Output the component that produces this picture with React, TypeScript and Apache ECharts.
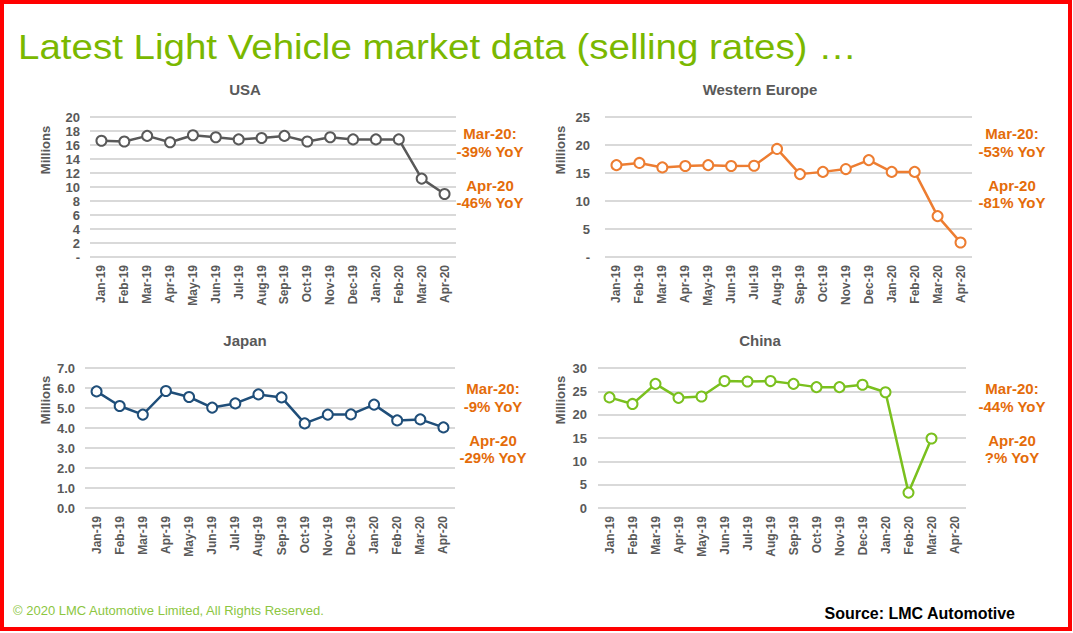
import React, { useEffect, useRef } from "react";
import * as echarts from "echarts";

const months = ["Jan-19","Feb-19","Mar-19","Apr-19","May-19","Jun-19","Jul-19","Aug-19","Sep-19","Oct-19","Nov-19","Dec-19","Jan-20","Feb-20","Mar-20","Apr-20"];
const usa = [16.6,16.5,17.3,16.4,17.4,17.1,16.8,17.0,17.3,16.5,17.1,16.8,16.8,16.8,11.2,9.0];
const westernEurope = [16.4,16.8,16.0,16.25,16.4,16.25,16.3,19.3,14.8,15.2,15.7,17.3,15.2,15.2,7.3,2.6];
const japan = [5.83,5.1,4.67,5.85,5.55,5.02,5.23,5.68,5.53,4.23,4.67,4.68,5.17,4.38,4.43,4.03];
const china: (number | null)[] = [23.7,22.3,26.6,23.6,23.9,27.2,27.1,27.2,26.6,25.9,25.9,26.4,24.8,3.3,14.9,null];

const panelTitles = ["USA", "Western Europe", "Japan", "China"];
const annotations = [
  ["Mar-20:", "-39% YoY", "Apr-20", "-46% YoY"],
  ["Mar-20:", "-53% YoY", "Apr-20", "-81% YoY"],
  ["Mar-20:", "-9% YoY", "Apr-20", "-29% YoY"],
  ["Mar-20:", "-44% YoY", "Apr-20", "?% YoY"],
];

const FONT = "'Liberation Sans', Arial, sans-serif";
const GRAY = "#595959";
const ORANGE = "#E46C0A";

export default function App() {
  const ref = useRef<HTMLDivElement>(null);
  useEffect(() => {
    if (!ref.current) return;
    const chart = echarts.init(ref.current, null, { renderer: "svg" });

    const grids = [
      { left: 90, top: 117, width: 366, height: 140 },
      { left: 605, top: 117, width: 367, height: 140 },
      { left: 85, top: 368, width: 370, height: 140 },
      { left: 598, top: 368, width: 368, height: 140 },
    ];
    const yCfg = [
      { max: 20, interval: 2, fmt: (v: number) => (v === 0 ? "-" : String(v)), margin: 10 },
      { max: 25, interval: 5, fmt: (v: number) => (v === 0 ? "-" : String(v)), margin: 15 },
      { max: 7, interval: 1, fmt: (v: number) => v.toFixed(1), margin: 10 },
      { max: 30, interval: 5, fmt: (v: number) => String(v), margin: 11 },
    ];
    const colors = [GRAY, "#ED7D31", "#1F4E79", "#7AC01E"];
    const datasets = [usa, westernEurope, japan, china];

    const titleCenters = [[245, 89], [760, 89], [245, 340], [760, 340]];
    const millionsPos = [[45, 150], [560, 150], [45, 400], [560, 400]];
    const annotX = [490, 1012, 493, 1012];
    const annotY0 = [133, 133, 388, 388];
    const annotDy = [0, 18, 52, 69];

    const graphic: any[] = [
      { type: "rect", shape: { x: 2, y: 2, width: 1068, height: 627 }, style: { fill: "none", stroke: "#FF0000", lineWidth: 4 } },
      { type: "text", x: 18, y: 47, scaleX: 1.1, style: { text: "Latest Light Vehicle market data (selling rates) …", font: `35px ${FONT}`, fill: "#7AB800", verticalAlign: "middle" } },
      { type: "text", x: 13, y: 610, style: { text: "© 2020 LMC Automotive Limited, All Rights Reserved.", font: `13px ${FONT}`, fill: "#8CC63F", verticalAlign: "middle" } },
      { type: "text", x: 1015, y: 613, style: { text: "Source: LMC Automotive", font: `bold 16px ${FONT}`, fill: "#000", align: "right", verticalAlign: "middle" } },
    ];
    panelTitles.forEach((t, i) => {
      graphic.push({ type: "text", x: titleCenters[i][0], y: titleCenters[i][1], style: { text: t, font: `bold 15px ${FONT}`, fill: GRAY, align: "center", verticalAlign: "middle" } });
      graphic.push({ type: "text", x: millionsPos[i][0], y: millionsPos[i][1], rotation: Math.PI / 2, style: { text: "Millions", font: `bold 13px ${FONT}`, fill: GRAY, align: "center", verticalAlign: "middle" } });
      annotations[i].forEach((a, j) => {
        graphic.push({ type: "text", x: annotX[i], y: annotY0[i] + annotDy[j], style: { text: a, font: `bold 15px ${FONT}`, fill: ORANGE, align: "center", verticalAlign: "middle" } });
      });
    });

    chart.setOption({
      animation: false,
      backgroundColor: "#fff",
      grid: grids,
      xAxis: grids.map((_, i) => ({
        type: "category",
        gridIndex: i,
        data: months,
        boundaryGap: true,
        axisLine: { show: false },
        axisTick: { show: false },
        axisLabel: { rotate: 90, margin: 8, interval: 0, color: GRAY, fontWeight: "bold", fontSize: 12, fontFamily: FONT },
      })),
      yAxis: grids.map((_, i) => ({
        type: "value",
        gridIndex: i,
        min: 0,
        max: yCfg[i].max,
        interval: yCfg[i].interval,
        axisLine: { show: false },
        axisTick: { show: false },
        axisLabel: { formatter: yCfg[i].fmt, margin: yCfg[i].margin, color: GRAY, fontWeight: "bold", fontSize: 13, fontFamily: FONT },
        splitLine: { lineStyle: { color: "#D9D9D9", width: 2 } },
      })),
      series: datasets.map((d, i) => ({
        type: "line",
        xAxisIndex: i,
        yAxisIndex: i,
        data: d,
        symbol: "circle",
        symbolSize: 10,
        connectNulls: false,
        lineStyle: { color: colors[i], width: 2.5 },
        itemStyle: { color: "#fff", borderColor: colors[i], borderWidth: 2 },
      })),
      graphic,
    });
    return () => chart.dispose();
  }, []);
  return <div ref={ref} style={{ position: "absolute", left: 0, top: 0, width: 1073, height: 633 }} />;
}
